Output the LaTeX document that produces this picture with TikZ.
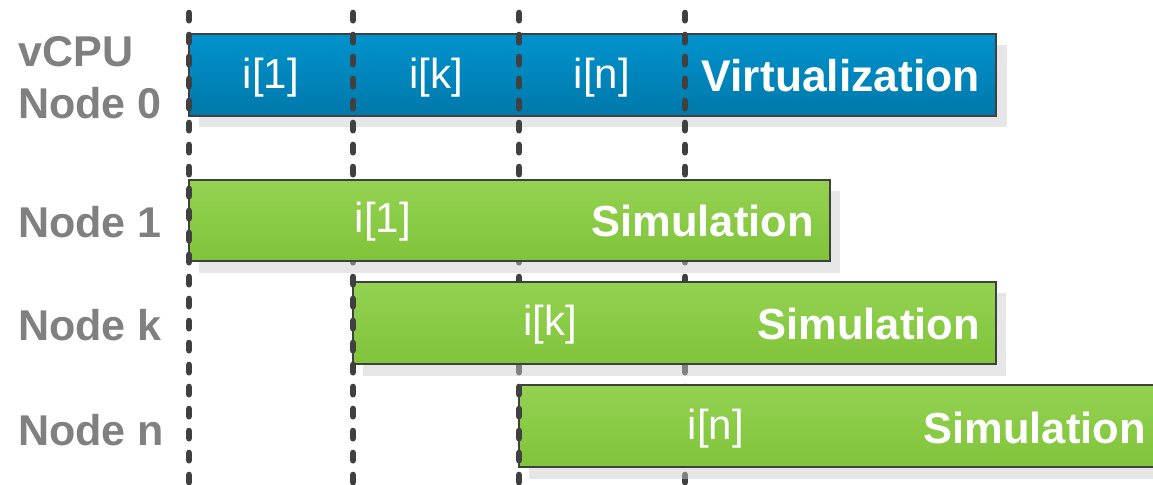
\documentclass[tikz,border=0pt]{standalone}
\usepackage{fontspec}
\setmainfont{Liberation Sans}
\usetikzlibrary{fit}
\definecolor{blueTop}{RGB}{0,147,205}
\definecolor{blueBot}{RGB}{0,120,170}
\definecolor{greenTop}{RGB}{148,210,82}
\definecolor{greenBot}{RGB}{128,196,58}
\definecolor{edgegray}{RGB}{64,64,64}
\definecolor{labelgray}{RGB}{128,128,128}
\definecolor{shadowgray}{RGB}{201,201,201}
\newcommand\bigf{\fontsize{31.5pt}{36pt}\selectfont}
\newcommand\lblf{\fontsize{32.3pt}{36pt}\selectfont}
\newcommand\boldf{\fontsize{32.6pt}{36pt}\selectfont}
\begin{document}
\begin{tikzpicture}[x=0.75pt,y=-0.75pt,
  boxbase/.style={inner sep=0pt, draw=edgegray, line width=1.2pt},
  bluebox/.style={boxbase, top color=blueTop, bottom color=blueBot},
  greenbox/.style={boxbase, top color=greenTop, bottom color=greenBot},
  shadowbox/.style={inner sep=0pt, fill=shadowgray, fill opacity=0.47},
  vline/.style={draw=edgegray, line width=5pt, line cap=round, dash pattern=on 5.4pt off 11.1pt},
  rowlabel/.style={font=\lblf\bfseries, text=labelgray, anchor=base west, inner sep=0pt},
  itext/.style={font=\bigf, text=white, anchor=base, inner sep=0pt},
  btext/.style={font=\boldf\bfseries, text=white, anchor=base east, inner sep=0pt}]
\useasboundingbox (0,0) rectangle (1153,485);

% blue box
\node[shadowbox, fit={(199,45)(1007,127)}] (s0) {};
\node[bluebox, fit={(189,34)(996,116)}] (b0) {};

% dashed lines
\coordinate (t1) at (189,13); \coordinate (e1) at (189,500);
\coordinate (t2) at (353,13); \coordinate (e2) at (353,500);
\coordinate (t3) at (519,13); \coordinate (e3) at (519,500);
\coordinate (t4) at (685,13); \coordinate (e4) at (685,500);
\draw[vline] (t1) -- (e1);
\draw[vline] (t2) -- (e2);
\draw[vline] (t3) -- (e3);
\draw[vline] (t4) -- (e4);

% green boxes
\node[shadowbox, fit={(199,191)(840,273)}] (s1) {};
\node[greenbox, fit={(189,180)(830,261)}] (g1) {};
\node[shadowbox, fit={(363,293)(1006,376)}] (sk) {};
\node[greenbox, fit={(353,282)(996,364)}] (gk) {};
\node[shadowbox, fit={(529,396)(1172,479)}] (sn) {};
\node[greenbox, fit={(519,385)(1162,467)}] (gn) {};

% line segments at left edges of green boxes
\begin{scope}
  \clip (g1.north west) rectangle (g1.south east);
  \draw[vline] (t1) -- (e1);
\end{scope}
\begin{scope}
  \clip (gk.north west) rectangle (gk.south east);
  \draw[vline] (t2) -- (e2);
\end{scope}
\begin{scope}
  \clip (gn.north west) rectangle (gn.south east);
  \draw[vline] (t3) -- (e3);
\end{scope}

% row labels
\node[rowlabel] (l0a) at (18,67) {vCPU};
\node[rowlabel] (l0b) at (18,118) {Node 0};
\node[rowlabel] (l1) at (18,237) {Node 1};
\node[rowlabel] (lk) at (18,340) {Node k};
\node[rowlabel] (ln) at (18,445) {Node n};

% texts in blue box
\node[itext] (b0i1) at (271,89) {i[1]};
\node[itext] (b0ik) at (436,89) {i[k]};
\node[itext] (b0in) at (602,89) {i[n]};
\node[btext, font=\fontsize{33.3pt}{36pt}\selectfont\bfseries] (b0v) at (980,92) {Virtualization};

% texts in green boxes
\node[itext] (g1i) at (383,232) {i[1]};
\node[btext] (g1s) at (814,236) {Simulation};
\node[itext] (gki) at (550,335) {i[k]};
\node[btext] (gks) at (980,339) {Simulation};
\node[itext] (gni) at (716,439) {i[n]};
\node[btext] (gns) at (1146,443) {Simulation};
\end{tikzpicture}
\end{document}
